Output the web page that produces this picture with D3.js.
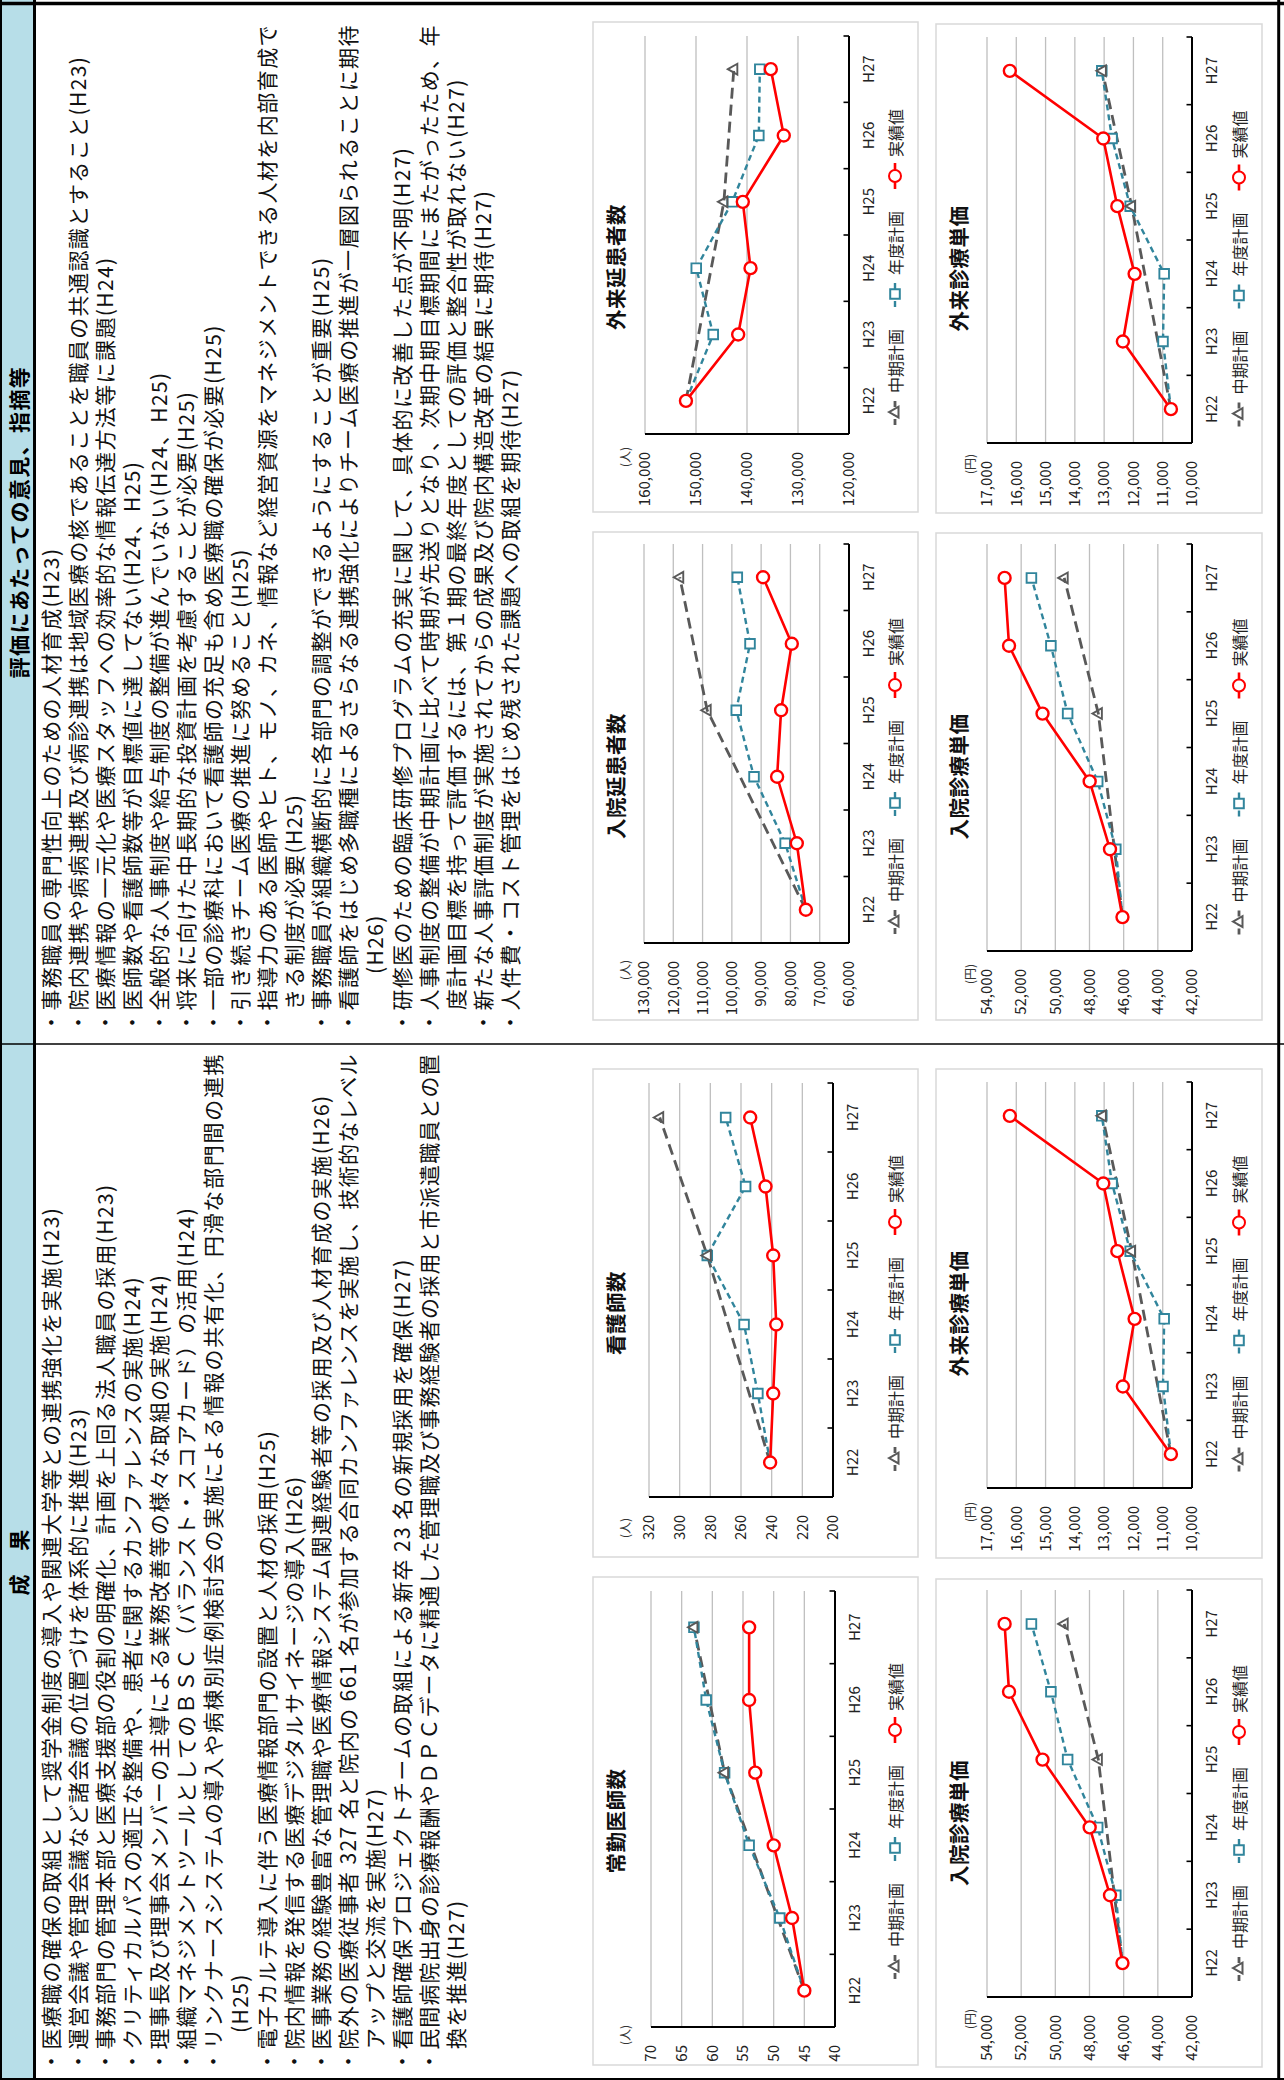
<!DOCTYPE html>
<html><head><meta charset="utf-8">
<script src="https://cdn.jsdelivr.net/npm/d3@7"></script>
<style>html,body{margin:0;padding:0;background:#fff;} svg{display:block;}</style>
</head><body>
<svg id="page" width="1284" height="2080"></svg>
<script>
// ---------------- DATA ----------------
const categories = ["H22","H23","H24","H25","H26","H27"];
const seriesNames = ["中期計画","年度計画","実績値"];

const doctorsTicks  = [40,45,50,55,60,65,70];
const doctorsMid    = [45, null, null, 58, null, 63];
const doctorsPlan   = [45, 49, 54, 58, 61, 63];
const doctorsActual = [45, 47, 50, 53, 54, 54];

const nursesTicks  = [200,220,240,260,280,300,320];
const nursesMid    = [241, null, null, 282, null, 313];
const nursesPlan   = [241, 249, 258, 282, 257, 270];
const nursesActual = [241, 239, 237, 239, 244, 254];

const inPriceTicks  = [42000,44000,46000,48000,50000,52000,54000];
const inPriceMid    = [46070, null, null, 47480, null, 49480];
const inPricePlan   = [46070, 46460, 47520, 49280, 50260, 51400];
const inPriceActual = [46070, 46800, 47990, 50750, 52710, 52970];

const outPriceTicks  = [10000,11000,12000,13000,14000,15000,16000,17000];
const outPriceMid    = [10720, null, null, 12060, null, 13060];
const outPricePlan   = [10720, 10990, 10950, 12110, 12730, 13080];
const outPriceActual = [10720, 12360, 11960, 12550, 13030, 16220];

const inDaysTicks  = [60000,70000,80000,90000,100000,110000,120000,130000];
const inDaysMid    = [74730, null, null, 108420, null, 117790];
const inDaysPlan   = [74730, 81810, 92430, 98490, 93800, 98140];
const inDaysActual = [74730, 77820, 84550, 83180, 79530, 89350];

const outDaysTicks  = [120000,130000,140000,150000,160000];
const outDaysMid    = [151970, null, null, 144530, null, 142580];
const outDaysPlan   = [151970, 146620, 149950, 142900, 137680, 137490];
const outDaysActual = [151970, 141730, 139310, 140820, 132790, 135330];

const headerResults = "成　果";
const headerReview  = "評価にあたっての意見、指摘等";

// kind: b = bullet line, c = continuation, p = parenthesis continuation; full = justified to edge
const resultLines = [
  {t:"・医療職の確保の取組として奨学金制度の導入や関連大学等との連携強化を実施(H23)", k:"b"},
  {t:"・運営会議や管理会議など諸会議の位置づけを体系的に推進(H23)", k:"b"},
  {t:"・事務部門の管理本部と医療支援部の役割の明確化、計画を上回る法人職員の採用(H23)", k:"b"},
  {t:"・クリティカルパスの適正な整備や、患者に関するカンファレンスの実施(H24)", k:"b"},
  {t:"・理事長及び理事会メンバーの主導による業務改善等の様々な取組の実施(H24)", k:"b"},
  {t:"・組織マネジメントツールとしてのＢＳＣ（バランスト・スコアカード）の活用(H24)", k:"b"},
  {t:"・リンクナースシステムの導入や病棟別症例検討会の実施による情報の共有化、円滑な部門間の連携", k:"b", full:true},
  {t:"(H25)", k:"p"},
  {t:"・電子カルテ導入に伴う医療情報部門の設置と人材の採用(H25)", k:"b"},
  {t:"・院内情報を発信する医療デジタルサイネージの導入(H26)", k:"b"},
  {t:"・医事業務の経験豊富な管理職や医療情報システム関連経験者等の採用及び人材育成の実施(H26)", k:"b"},
  {t:"・院外の医療従事者 327 名と院内の 661 名が参加する合同カンファレンスを実施し、技術的なレベル", k:"b", full:true},
  {t:"アップと交流を実施(H27)", k:"c"},
  {t:"・看護師確保プロジェクトチームの取組による新卒 23 名の新規採用を確保(H27)", k:"b"},
  {t:"・民間病院出身の診療報酬やＤＰＣデータに精通した管理職及び事務経験者の採用と市派遣職員との置", k:"b", full:true},
  {t:"換を推進(H27)", k:"c"}
];

const reviewLines = [
  {t:"・事務職員の専門性向上のための人材育成(H23)", k:"b"},
  {t:"・院内連携や病病連携及び病診連携は地域医療の核であることを職員の共通認識とすること(H23)", k:"b"},
  {t:"・医療情報の一元化や医療スタッフへの効率的な情報伝達方法等に課題(H24)", k:"b"},
  {t:"・医師数や看護師数等が目標値に達してない(H24、H25)", k:"b"},
  {t:"・全般的な人事制度や給与制度の整備が進んでいない(H24、H25)", k:"b"},
  {t:"・将来に向けた中長期的な投資計画を考慮することが必要(H25)", k:"b"},
  {t:"・一部の診療科において看護師の充足も含め医療職の確保が必要(H25)", k:"b"},
  {t:"・引き続きチーム医療の推進に努めること(H25)", k:"b"},
  {t:"・指導力のある医師やヒト、モノ、カネ、情報など経営資源をマネジメントできる人材を内部育成で", k:"b", full:true},
  {t:"きる制度が必要(H25)", k:"c"},
  {t:"・事務職員が組織横断的に各部門の調整ができるようにすることが重要(H25)", k:"b"},
  {t:"・看護師をはじめ多職種によるさらなる連携強化によりチーム医療の推進が一層図られることに期待", k:"b", full:true},
  {t:"(H26)", k:"p"},
  {t:"・研修医のための臨床研修プログラムの充実に関して、具体的に改善した点が不明(H27)", k:"b"},
  {t:"・人事制度の整備が中期計画に比べて時期が先送りとなり、次期中期目標期間にまたがったため、年", k:"b", full:true},
  {t:"度計画目標を持って評価するには、第１期の最終年度としての評価と整合性が取れない(H27)", k:"c"},
  {t:"・新たな人事評価制度が実施されてからの成果及び院内構造改革の結果に期待(H27)", k:"b"},
  {t:"・人件費・コスト管理をはじめ残された課題への取組を期待(H27)", k:"b"}
];

const chartSpecs = [
  {title:"常勤医師数",   unit:"(人)", ticks:doctorsTicks,  mid:doctorsMid,  plan:doctorsPlan,  actual:doctorsActual},
  {title:"看護師数",     unit:"(人)", ticks:nursesTicks,   mid:nursesMid,   plan:nursesPlan,   actual:nursesActual},
  {title:"入院診療単価", unit:"(円)", ticks:inPriceTicks,  mid:inPriceMid,  plan:inPricePlan,  actual:inPriceActual},
  {title:"外来診療単価", unit:"(円)", ticks:outPriceTicks, mid:outPriceMid, plan:outPricePlan, actual:outPriceActual},
  {title:"入院延患者数", unit:"(人)", ticks:inDaysTicks,   mid:inDaysMid,   plan:inDaysPlan,   actual:inDaysActual},
  {title:"外来延患者数", unit:"(人)", ticks:outDaysTicks,  mid:outDaysMid,  plan:outDaysPlan,  actual:outDaysActual},
  {title:"入院診療単価", unit:"(円)", ticks:inPriceTicks,  mid:inPriceMid,  plan:inPricePlan,  actual:inPriceActual},
  {title:"外来診療単価", unit:"(円)", ticks:outPriceTicks, mid:outPriceMid, plan:outPricePlan, actual:outPriceActual}
];

// ---------------- LAYOUT (landscape page coordinates) ----------------
const PAGE_W = 2080, PAGE_H = 1284, COL_DIV = 1036;
const chartLayouts = [
  {box:[15,593,488,325],   plot:[53,651,489,835],     unit:[45,624]},
  {box:[523,593,488,325],  plot:[583,649,997,833],    unit:[552,624]},
  {box:[13,936,488,326],   plot:[83,987,490,1192],    unit:[61,969]},
  {box:[522,936,489,326],  plot:[592,987,998,1192],   unit:[568,969]},
  {box:[1060,593,488,325], plot:[1137,644,1536,849],  unit:[1110,624]},
  {box:[1568,593,490,325], plot:[1646,645,2044,849],  unit:[1623,624]},
  {box:[1060,936,487,326], plot:[1129,987,1536,1192], unit:[1106,969]},
  {box:[1567,936,489,326], plot:[1637,987,2043,1192], unit:[1616,969]}
];
const seriesStyles = [
  {color:"#595959", width:2.8, dash:"11,6", marker:"triangle"},
  {color:"#31859c", width:2.4, dash:"6,4",  marker:"square"},
  {color:"#ff0000", width:2.6, dash:null,   marker:"circle"}
];
const JP = "'Noto Sans CJK JP','Noto Sans',sans-serif";

// ---------------- DRAW ----------------
const svg = d3.select("#page");
svg.append("rect").attr("width",1284).attr("height",2080).attr("fill","#fff");
const root = svg.append("g").attr("transform","translate(0,2080) rotate(-90)");

// header band
root.append("rect").attr("x",0).attr("y",0).attr("width",PAGE_W).attr("height",34).attr("fill","#b7dee8");
[[headerResults, COL_DIV/2],[headerReview,(COL_DIV+PAGE_W)/2]].forEach(([t,cx]) => {
  root.append("text").attr("x",cx).attr("y",18).attr("text-anchor","middle")
    .attr("dominant-baseline","central").attr("font-family",JP).attr("font-weight","bold")
    .attr("font-size",21).attr("letter-spacing",1.4).attr("fill","#000").text(t);
});

function drawTextBlock(lines, x0, xEnd, parenX) {
  lines.forEach((ln,i) => {
    const sx = ln.k === "b" ? x0 : (ln.k === "c" ? x0 + 23 : parenX);
    const t = root.append("text").attr("x",sx).attr("y",50 + 27*i)
      .attr("dominant-baseline","central").attr("font-family",JP).attr("font-size",21)
      .attr("letter-spacing",1.4).attr("fill","#111").text(ln.t);
    if (ln.full) t.attr("textLength", xEnd - sx).attr("lengthAdjust","spacing");
  });
}
drawTextBlock(resultLines, 8, 1027, 47);
drawTextBlock(reviewLines, 1047, 2056, 1106);

function markerPath(type) {
  if (type === "triangle") return "M0,-6L5.4,3.5L-5.4,3.5Z";
  if (type === "square") return "M-4.8,-4.8H4.8V4.8H-4.8Z";
  return d3.symbol().type(d3.symbolCircle).size(Math.PI*6*6)();
}
function markerFill(type){ return type === "triangle" ? "none" : "#fff"; }

function drawChart(spec, lay) {
  const g = root.append("g");
  const [bx,by,bw,bh] = lay.box;
  const [pl,pt,pr,pb] = lay.plot;
  g.append("rect").attr("x",bx).attr("y",by).attr("width",bw).attr("height",bh)
    .attr("fill","#fff").attr("stroke","#d9d9d9").attr("stroke-width",1.5);

  const x = d3.scaleBand().domain(categories).range([pl,pr]);
  const y = d3.scaleLinear().domain(d3.extent(spec.ticks)).range([pb,pt]);
  const cx = c => x(c) + x.bandwidth()/2;

  // gridlines
  g.append("g").selectAll("line").data(spec.ticks.filter(v => v !== d3.min(spec.ticks))).join("line")
    .attr("x1",pl).attr("x2",pr).attr("y1",d => y(d)).attr("y2",d => y(d))
    .attr("stroke","#bfbfbf").attr("stroke-width",1.3);

  // value axis (labels)
  const ya = g.append("g").attr("transform",`translate(${pl},0)`)
    .call(d3.axisLeft(y).tickValues(spec.ticks).tickFormat(d3.format(",")).tickSize(0).tickPadding(18));
  ya.select(".domain").remove();
  ya.selectAll("text").attr("font-family",JP).attr("font-size",15).attr("fill","#222");
  g.append("line").attr("x1",pl).attr("x2",pl).attr("y1",pt).attr("y2",pb)
    .attr("stroke","#000").attr("stroke-width",2);

  // category axis
  const xa = g.append("g").attr("transform",`translate(0,${pb})`)
    .call(d3.axisBottom(x).tickSize(0).tickPadding(0));
  xa.select(".domain").remove();
  xa.selectAll("text").attr("y",20).attr("dy","0.35em").attr("font-family",JP)
    .attr("font-size",15).attr("fill","#222");
  g.append("line").attr("x1",pl).attr("x2",pr).attr("y1",pb).attr("y2",pb)
    .attr("stroke","#000").attr("stroke-width",2);
  const bounds = categories.map(c => x(c)).concat([pr]);
  g.append("g").selectAll("line").data(bounds).join("line")
    .attr("x1",d => d).attr("x2",d => d).attr("y1",pb).attr("y2",pb-5.5)
    .attr("stroke","#000").attr("stroke-width",1.6);

  // series lines
  const lineGen = d3.line().x(d => cx(d.c)).y(d => y(d.v));
  const seriesData = [spec.mid, spec.plan, spec.actual].map((vals,si) => ({
    style: seriesStyles[si],
    pts: vals.map((v,i) => ({c:categories[i], v, i})).filter(d => d.v != null)
  }));
  seriesData.forEach(s => {
    g.append("path").attr("d", lineGen(s.pts)).attr("fill","none")
      .attr("stroke", s.style.color).attr("stroke-width", s.style.width)
      .attr("stroke-dasharray", s.style.dash).attr("stroke-linejoin","round");
  });
  // markers: plan squares, then mid triangles, then actual circles (skip plan markers equal to actual)
  [1,0,2].forEach(si => {
    const s = seriesData[si];
    const pts = si === 2 ? s.pts : s.pts.filter(d => d.v !== spec.actual[d.i]);
    g.append("g").selectAll("path").data(pts).join("path")
      .attr("transform", d => `translate(${cx(d.c)},${y(d.v)})`)
      .attr("d", markerPath(s.style.marker))
      .attr("fill", markerFill(s.style.marker)).attr("stroke", s.style.color)
      .attr("stroke-width", si === 2 ? 2.4 : 1.9);
  });

  // title + unit
  g.append("text").attr("x",bx + bw/2).attr("y",by + 22).attr("text-anchor","middle")
    .attr("dominant-baseline","central").attr("font-family",JP).attr("font-weight","bold")
    .attr("font-size",20.5).attr("letter-spacing",0.5).attr("fill","#111").text(spec.title);
  g.append("text").attr("x",lay.unit[0]).attr("y",lay.unit[1]).attr("text-anchor","middle")
    .attr("dominant-baseline","central").attr("font-family",JP).attr("font-size",12)
    .attr("fill","#333").text(spec.unit);

  // legend
  const lg = g.append("g");
  let pos = 0;
  seriesNames.forEach((name, si) => {
    const st = seriesStyles[si];
    const it = lg.append("g").attr("transform",`translate(${pos},0)`);
    it.append("line").attr("x1",0).attr("x2",26).attr("y1",0).attr("y2",0)
      .attr("stroke",st.color).attr("stroke-width",st.width).attr("stroke-dasharray",st.dash ? "6,3" : null);
    it.append("path").attr("transform","translate(13,0)").attr("d",markerPath(st.marker))
      .attr("fill","#fff").attr("stroke",st.color).attr("stroke-width",2);
    const tx = it.append("text").attr("x",32).attr("y",0).attr("dominant-baseline","central")
      .attr("font-family",JP).attr("font-size",16).attr("fill","#222").text(name);
    pos += 32 + tx.node().getComputedTextLength() + 22;
  });
  const total = pos - 22;
  lg.attr("transform",`translate(${bx + bw/2 - total/2},${by + bh - 23})`);
}
chartSpecs.forEach((s,i) => drawChart(s, chartLayouts[i]));

// table borders
const border = (x1,y1,x2,y2,w) => root.append("line").attr("x1",x1).attr("y1",y1)
  .attr("x2",x2).attr("y2",y2).attr("stroke","#000").attr("stroke-width",w);
border(0,34.5,PAGE_W,34.5,3);
border(COL_DIV,0,COL_DIV,PAGE_H,1.6);
border(0,1,PAGE_W,1,2);
border(2076.5,0,2076.5,PAGE_H,3.5);
border(0,1278.7,PAGE_W,1278.7,3);
border(1,0,1,PAGE_H,2);
</script>
</body></html>
